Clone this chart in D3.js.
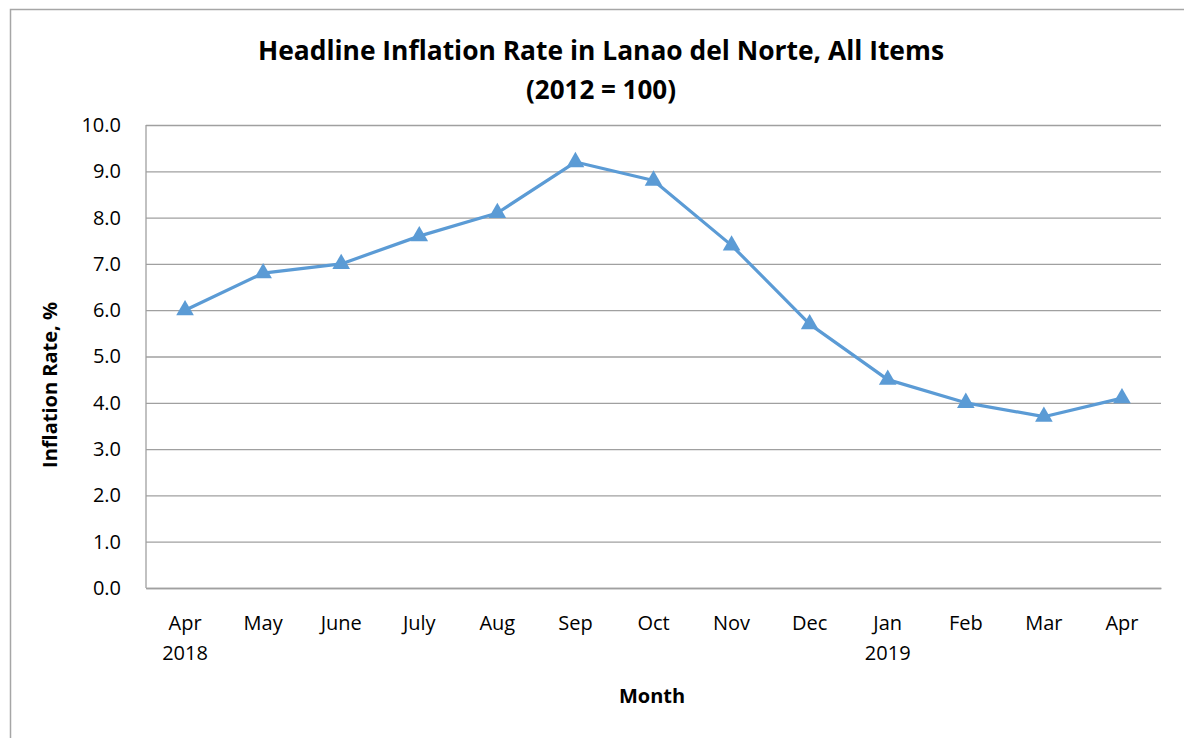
<!DOCTYPE html>
<html>
<head>
<meta charset="utf-8">
<script src="https://cdn.jsdelivr.net/npm/d3@7"></script>
<style>
    body { margin: 0; background: #fff; }
    svg { display: block; font-family: "Open Sans", "Noto Sans", sans-serif; }
</style>
</head>
<body>
<svg id="chart" width="1184" height="738"></svg>
<script>
// 資料
const months = ["Apr\n2018", "May", "June", "July", "Aug", "Sep", "Oct", "Nov", "Dec", "Jan\n2019", "Feb", "Mar", "Apr"];
const inflation = [6.0, 6.8, 7.0, 7.6, 8.1, 9.2, 8.8, 7.4, 5.7, 4.5, 4.0, 3.7, 4.1];
const yTicks = [0, 1, 2, 3, 4, 5, 6, 7, 8, 9, 10];

const data = months.map((m, i) => ({ label: m, value: inflation[i] }));

const svg = d3.select("#chart");
const FONT = '"Open Sans", "Noto Sans", sans-serif';

// 外框
svg.append("rect")
    .attr("x", 10.5).attr("y", 9.5)
    .attr("width", 1200).attr("height", 800)
    .attr("fill", "none")
    .attr("stroke", "#a6a6a6")
    .attr("stroke-width", 1.5);

const margin = { top: 125, left: 146, right: 23, bottom: 150 };
const width = 1184 - margin.left - margin.right;
const height = 738 - margin.top - margin.bottom;

const x = d3.scaleBand()
    .domain(data.map(d => d.label))
    .range([0, width]);

const y = d3.scaleLinear()
    .domain([0, 10])
    .range([height, 0]);

const chart = svg.append("g")
    .attr("transform", `translate(${margin.left},${margin.top})`);

// 格線
chart.append("g")
    .attr("font-family", FONT)
    .call(d3.axisLeft(y).tickValues(yTicks).tickSize(-width).tickFormat(d => d.toFixed(1)).tickPadding(25))
    .attr("font-family", FONT)
    .call(g => g.select(".domain").remove())
    .call(g => g.selectAll(".tick line").attr("stroke", "#a0a0a0").attr("stroke-width", 1.3))
    .call(g => g.selectAll(".tick text").attr("font-size", "20px").attr("fill", "#000"));

// 左軸線
chart.append("line")
    .attr("x1", 0).attr("x2", 0).attr("y1", 0).attr("y2", height)
    .attr("stroke", "#a0a0a0").attr("stroke-width", 1.3);

// X 軸
const xAxis = chart.append("g")
    .attr("transform", `translate(0,${height})`)
    .call(d3.axisBottom(x).tickSize(0).tickPadding(0).tickFormat(""))
    .attr("font-family", FONT);
xAxis.select(".domain").attr("stroke", "#a0a0a0").attr("stroke-width", 1.3);

xAxis.selectAll(".tick").each(function (d) {
    const lines = d.split("\n");
    const t = d3.select(this).append("text")
        .attr("fill", "#000")
        .attr("font-size", "20px")
        .attr("text-anchor", "middle")
        .attr("y", 42);
    lines.forEach((ln, i) => {
        t.append("tspan").attr("x", 0).attr("dy", i === 0 ? 0 : 30).text(ln);
    });
});

// 折線
const line = d3.line()
    .x(d => x(d.label) + x.bandwidth() / 2)
    .y(d => y(d.value));

chart.append("path")
    .datum(data)
    .attr("fill", "none")
    .attr("stroke", "#5b9bd5")
    .attr("stroke-width", 3.2)
    .attr("stroke-linejoin", "round")
    .attr("d", line);

chart.selectAll(".marker")
    .data(data)
    .enter()
    .append("path")
    .attr("class", "marker")
    .attr("d", d3.symbol().type(d3.symbolTriangle).size(135))
    .attr("transform", d => `translate(${x(d.label) + x.bandwidth() / 2},${y(d.value)})`)
    .attr("fill", "#5b9bd5");

// 標題
svg.append("text")
    .attr("x", 601).attr("y", 60)
    .attr("text-anchor", "middle")
    .attr("font-size", "26px")
    .attr("font-weight", "bold")
    .attr("textLength", 686)
    .attr("lengthAdjust", "spacingAndGlyphs")
    .text("Headline Inflation Rate in Lanao del Norte, All Items");

svg.append("text")
    .attr("x", 601).attr("y", 99)
    .attr("text-anchor", "middle")
    .attr("font-size", "26px")
    .attr("font-weight", "bold")
    .text("(2012 = 100)");

// 軸標題
svg.append("text")
    .attr("x", 652).attr("y", 703)
    .attr("text-anchor", "middle")
    .attr("font-size", "20px")
    .attr("font-weight", "bold")
    .text("Month");

svg.append("text")
    .attr("transform", "translate(57,385) rotate(-90)")
    .attr("text-anchor", "middle")
    .attr("font-size", "20px")
    .attr("font-weight", "bold")
    .text("Inflation Rate, %");
</script>
</body>
</html>
